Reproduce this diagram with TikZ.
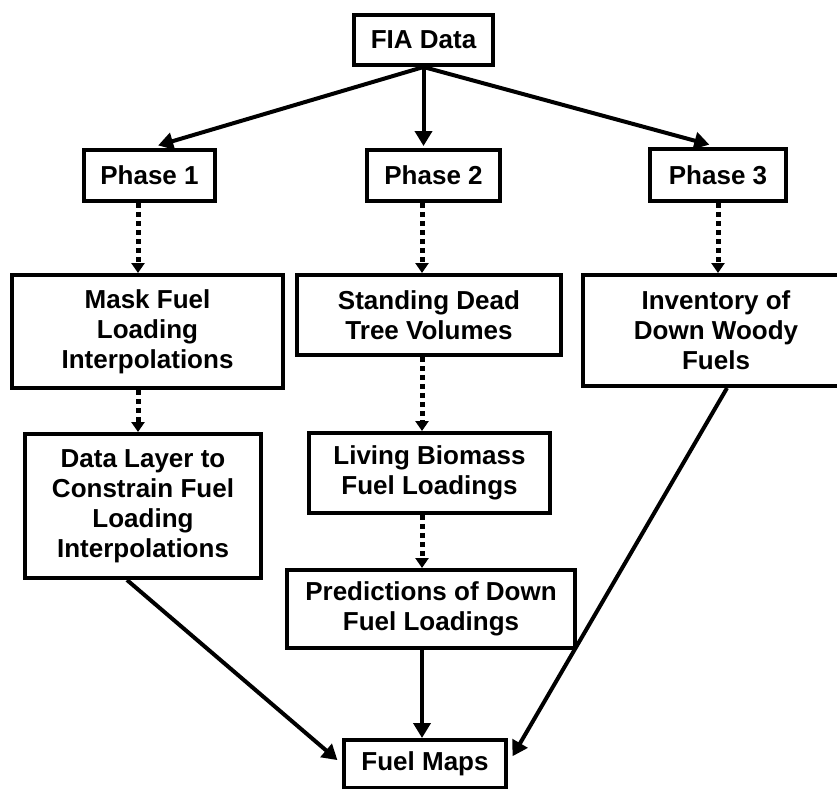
\documentclass[tikz,border=0pt]{standalone}
\usepackage{fontspec}
\setmainfont{Liberation Sans}
\usepackage{tikz}
\usetikzlibrary{arrows.meta}
\tikzset{
	box/.style={draw, line width=4pt, align=center, inner sep=0pt, font=\fontsize{26}{30}\selectfont\bfseries},
	flow/.style={line width=4pt, -{Triangle[length=15pt,width=17pt]}},
	link/.style={line width=5pt, dash pattern=on 5pt off 4pt, -{Triangle[length=10pt,width=13pt]}}
}

\begin{document}
\begin{tikzpicture}[x=1pt,y=-1pt]
	\useasboundingbox (0,0) rectangle (837,788);
	%Top level and the three phases
	\node[box, minimum width=139pt, minimum height=50pt] (fia) at (423.5,40) {FIA Data};
	\node[box, minimum width=131pt, minimum height=51pt] (ph1) at (149.5,175.5) {Phase 1};
	\node[box, minimum width=133pt, minimum height=51pt] (ph2) at (433.5,175.5) {Phase 2};
	\node[box, minimum width=136pt, minimum height=52pt] (ph3) at (718,175) {Phase 3};
	
	\node[box, minimum width=271pt, minimum height=113pt] (mask) at (147.5,331.5) {Mask Fuel\\Loading\\Interpolations};
	\node[box, minimum width=264pt, minimum height=80pt] (stand) at (429,315) {Standing Dead\\Tree Volumes};
	\node[box, minimum width=266pt, minimum height=111pt] (inv) at (716,330.5) {Inventory of\\Down Woody\\Fuels};
	
	\node[box, minimum width=236pt, minimum height=144pt] (layer) at (143,506) {Data Layer to\\Constrain Fuel\\Loading\\Interpolations};
	\node[box, minimum width=241pt, minimum height=80pt] (living) at (429.5,473) {Living Biomass\\Fuel Loadings};
	\node[box, minimum width=288pt, minimum height=78pt] (pred) at (431,609) {Predictions of Down\\Fuel Loadings};
	\node[box, minimum width=162pt, minimum height=48pt] (maps) at (425,764) {Fuel Maps};
	
	\coordinate (lft) at (138,0);
	\coordinate (mid) at (422,0);
	
	\draw[flow, shorten >=9pt] (fia.south) -- (ph1.north);
	\draw[flow, shorten >=2pt] (fia.south) -- (fia.south |- ph2.north);
	\draw[flow, shorten >=9pt] (fia.south) -- (ph3.north);
	
	\draw[link] (lft |- ph1.south) -- (lft |- mask.north);
	\draw[link] (mid |- ph2.south) -- (mid |- stand.north);
	\draw[link] (ph3.south) -- (ph3.south |- inv.north);
	\draw[link] (lft |- mask.south) -- (lft |- layer.north);
	\draw[link] (mid |- stand.south) -- (mid |- living.north);
	\draw[link] (mid |- living.south) -- (mid |- pred.north);
	
	\draw[flow] (mid |- pred.south) -- (mid |- maps.north);
	\draw[flow, shorten >=6pt] ([xshift=-16pt]layer.south) -- (maps.west);
	\draw[flow, shorten >=9pt] ([xshift=11pt]inv.south) -- (maps.east);
\end{tikzpicture}
\end{document}
